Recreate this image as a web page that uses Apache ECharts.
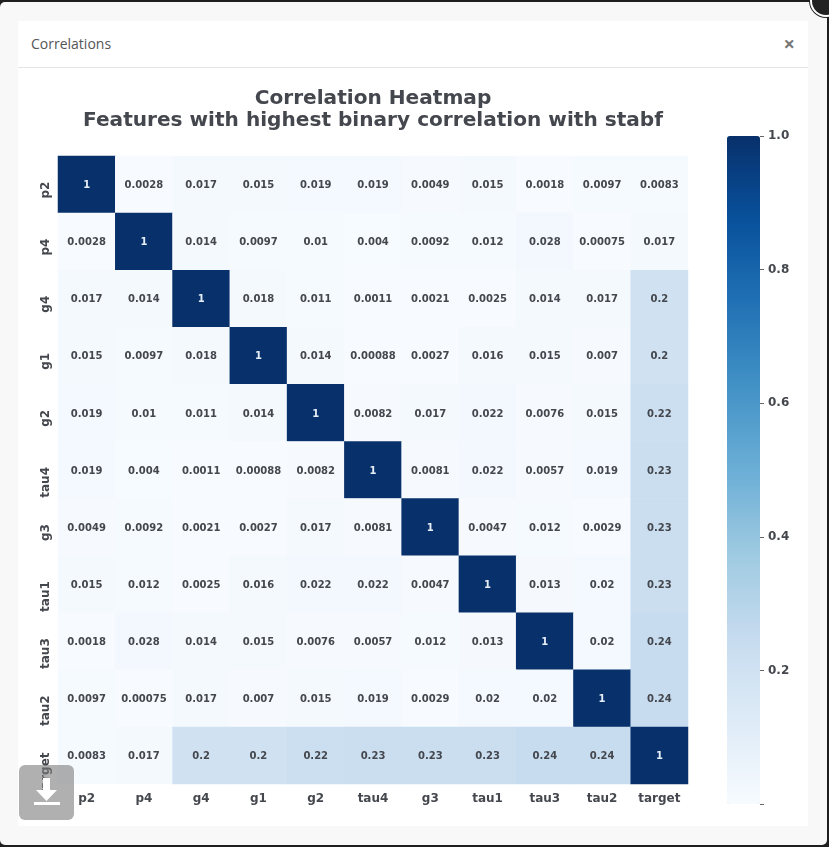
<!DOCTYPE html>
<html>

<head>
    <meta charset="utf-8">
    <title>Correlations</title>
    <style>
    html, body { margin: 0; padding: 0; width: 829px; height: 847px; overflow: hidden; background: #1f1f1f; }
    #modal { position: absolute; left: 0; top: 2px; width: 827px; height: 843px; background: #f8f8f8; border-radius: 5px; }
    #panel { position: absolute; left: 18px; top: 21px; width: 790px; height: 805px; background: #fff; }
    #head { position: absolute; left: 18px; top: 21px; width: 790px; height: 46px; border-bottom: 1px solid #e5e5e5; }
    #head span { position: absolute; left: 13px; top: 13px; font: 14px "Open Sans"; color: #555; }
    #head b { position: absolute; right: 13px; top: 9px; font: bold 20px "Open Sans"; color: #777; }
    #main { position: absolute; left: 0; top: 0; width: 829px; height: 847px; }
    #closer { position: absolute; left: 810px; top: -15px; width: 28px; height: 28px; border-radius: 50%; background: #222; border: 2px solid #fff; box-shadow: 0 0 0 1px #222; }
    #save { position: absolute; left: 19px; top: 765px; width: 55px; height: 55px; border-radius: 6px; background: rgba(123,123,123,0.6); }
    </style>
</head>

<body>
    <div id="modal"></div>
    <div id="panel"></div>
    <div id="head"><span>Correlations</span><b>×</b></div>
    <div id="main"></div>
    <div id="closer"></div>
    <div id="save">
        <svg width="55" height="55"><path d="M24 13h7v12h7l-10.500 11-10.500-11h7z M15 37h26v3h-26z" fill="#fff"/></svg>
    </div>
    <script src="https://cdn.jsdelivr.net/npm/echarts@6/dist/echarts.min.js" charset="utf-8"></script>
    <script>
    var features = ['p2', 'p4', 'g4', 'g1', 'g2', 'tau4', 'g3', 'tau1', 'tau3', 'tau2', 'target'];
    var p2 = [1, 0.0028, 0.017, 0.015, 0.019, 0.019, 0.0049, 0.015, 0.0018, 0.0097, 0.0083];
    var p4 = [0.0028, 1, 0.014, 0.0097, 0.01, 0.004, 0.0092, 0.012, 0.028, 0.00075, 0.017];
    var g4 = [0.017, 0.014, 1, 0.018, 0.011, 0.0011, 0.0021, 0.0025, 0.014, 0.017, 0.2];
    var g1 = [0.015, 0.0097, 0.018, 1, 0.014, 0.00088, 0.0027, 0.016, 0.015, 0.007, 0.2];
    var g2 = [0.019, 0.01, 0.011, 0.014, 1, 0.0082, 0.017, 0.022, 0.0076, 0.015, 0.22];
    var tau4 = [0.019, 0.004, 0.0011, 0.00088, 0.0082, 1, 0.0081, 0.022, 0.0057, 0.019, 0.23];
    var g3 = [0.0049, 0.0092, 0.0021, 0.0027, 0.017, 0.0081, 1, 0.0047, 0.012, 0.0029, 0.23];
    var tau1 = [0.015, 0.012, 0.0025, 0.016, 0.022, 0.022, 0.0047, 1, 0.013, 0.02, 0.23];
    var tau3 = [0.0018, 0.028, 0.014, 0.015, 0.0076, 0.0057, 0.012, 0.013, 1, 0.02, 0.24];
    var tau2 = [0.0097, 0.00075, 0.017, 0.007, 0.015, 0.019, 0.0029, 0.02, 0.02, 1, 0.24];
    var target = [0.0083, 0.017, 0.2, 0.2, 0.22, 0.23, 0.23, 0.23, 0.24, 0.24, 1];
    var rows = [p2, p4, g4, g1, g2, tau4, g3, tau1, tau3, tau2, target];
    var blues = ['#f7fbff', '#deebf7', '#c6dbef', '#9ecae1', '#6baed6', '#4292c6', '#2171b5', '#08519c', '#08306b'];

    var cells = [];
    rows.forEach(function(row, y) {
        row.forEach(function(v, x) {
            var item = { value: [x, y, v] };
            if (v > 0.5) item.label = { color: '#e6eef7' };
            cells.push(item);
        });
    });

    var textColor = '#44474d';
    var font = 'DejaVu Sans';
    var myChart = echarts.init(document.getElementById('main'), null, { renderer: 'canvas' });
    myChart.setOption({
        animation: false,
        title: {
            text: 'Correlation Heatmap\nFeatures with highest binary correlation with stabf',
            left: 368,
            top: 83,
            textAlign: 'center',
            textStyle: { fontFamily: font, fontWeight: 'bold', fontSize: 20.100, lineHeight: 22, color: textColor }
        },
        grid: [
            { left: 58, top: 156, width: 630, height: 628 },
            { left: 727, top: 136, width: 33, height: 668 },
            // y labels hang from just above the cell centre, so they get their own grid 3px higher
            { left: 58, top: 153, width: 630, height: 628 }
        ],
        xAxis: [{
            type: 'category',
            gridIndex: 0,
            data: features,
            axisLine: { show: false },
            axisTick: { show: false },
            splitLine: { show: false },
            axisLabel: { fontFamily: font, fontWeight: 'bold', fontSize: 12, color: textColor, margin: 9, interval: 0 }
        }, {
            type: 'value',
            gridIndex: 1,
            show: false
        }, {
            type: 'value',
            gridIndex: 2,
            show: false
        }],
        yAxis: [{
            type: 'category',
            gridIndex: 0,
            data: features,
            inverse: true,
            show: false
        }, {
            type: 'value',
            gridIndex: 1,
            position: 'right',
            min: 0,
            max: 1,
            interval: 0.2,
            axisLine: { show: false, onZero: false },
            axisTick: { show: true, length: 4, lineStyle: { color: '#666' } },
            splitLine: { show: false },
            axisLabel: {
                fontFamily: font, fontWeight: 'bold', fontSize: 12, color: textColor, margin: 8, padding: [4, 0, 0, 0],
                formatter: function(v) { return v === 0 ? '' : v.toFixed(1); }
            }
        }, {
            type: 'category',
            gridIndex: 2,
            data: features,
            inverse: true,
            axisLine: { show: false, onZero: false },
            axisTick: { show: false },
            splitLine: { show: false },
            axisLabel: { fontFamily: font, fontWeight: 'bold', fontSize: 12, color: textColor, rotate: 90, margin: 6, interval: 0, align: 'right' }
        }],
        visualMap: {
            type: 'continuous',
            seriesIndex: 0,
            min: 0.00075,
            max: 1,
            calculable: false,
            realtime: false,
            left: 727,
            top: 136,
            padding: 0,
            itemWidth: 33,
            itemHeight: 668,
            showLabel: false,
            inRange: { color: blues }
        },
        series: [{
            type: 'heatmap',
            xAxisIndex: 0,
            yAxisIndex: 0,
            data: cells,
            label: {
                show: true,
                fontFamily: font,
                fontWeight: 'bold',
                fontSize: 10,
                color: textColor,
                offset: [0, 1],
                formatter: function(p) { return String(p.value[2]); }
            },
            emphasis: { disabled: true }
        }]
    });
    </script>
</body>

</html>
